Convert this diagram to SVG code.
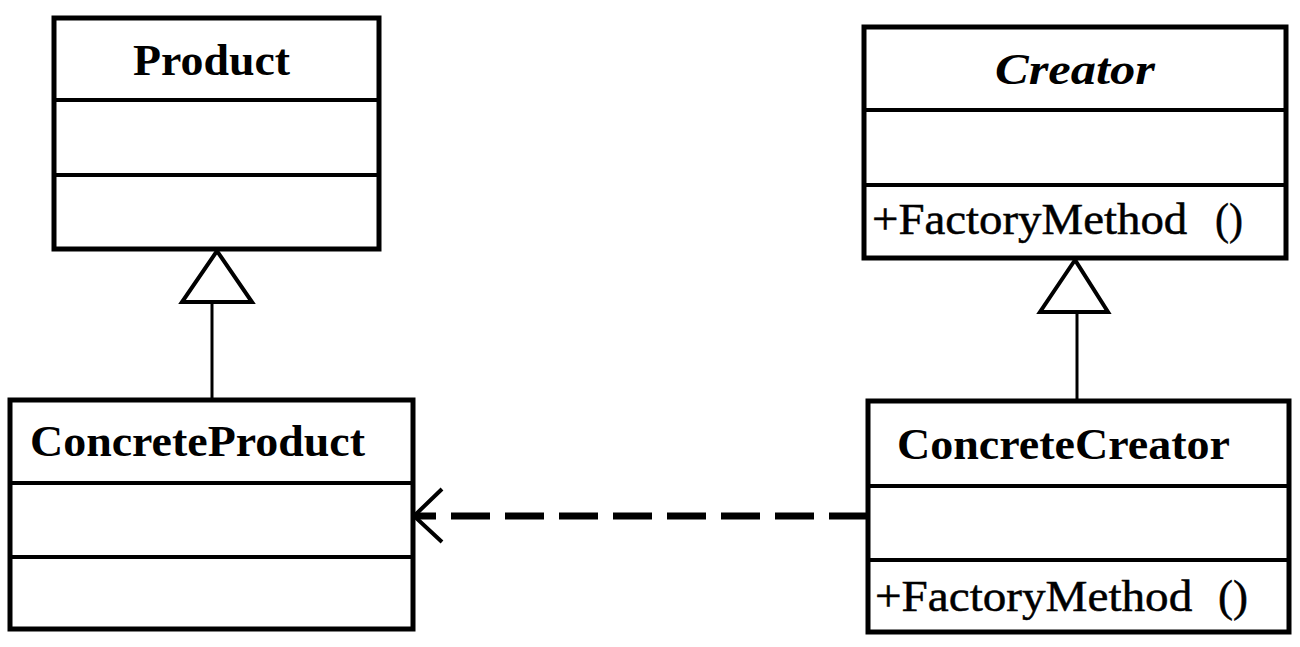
<svg xmlns="http://www.w3.org/2000/svg" width="1300" height="647" viewBox="0 0 1300 647">
<style>
.box{fill:#fff;stroke:#000;stroke-width:5}
.div{stroke:#000;stroke-width:4}
.name{font-family:"Liberation Serif","DejaVu Serif",serif;font-size:44px;font-weight:bold;fill:#000}
.it{font-style:italic}
.op{font-family:"Liberation Serif","DejaVu Serif",serif;font-size:44px;fill:#000;stroke:#000;stroke-width:0.5}
.gen{stroke:#000;stroke-width:3;fill:none}
.tri{fill:#fff;stroke:#000;stroke-width:4;stroke-linejoin:miter}
.dep{stroke:#000;stroke-width:7;stroke-dasharray:39 15;fill:none}
.head{stroke:#000;stroke-width:4;fill:none}
</style>
<rect width="1300" height="647" fill="#fff"/>
<g id="Product">
<rect class="box" x="54" y="18" width="325" height="231"/>
<line class="div" x1="54" y1="100" x2="379" y2="100"/>
<line class="div" x1="54" y1="175" x2="379" y2="175"/>
<text class="name" x="133" y="75" textLength="157" lengthAdjust="spacingAndGlyphs">Product</text>
</g>
<g id="Creator">
<rect class="box" x="864" y="27" width="422" height="231"/>
<line class="div" x1="864" y1="110" x2="1286" y2="110"/>
<line class="div" x1="864" y1="185" x2="1286" y2="185"/>
<text class="name it" x="995" y="84" textLength="160" lengthAdjust="spacingAndGlyphs">Creator</text>
<text class="op" y="234"><tspan x="872" textLength="327" lengthAdjust="spacingAndGlyphs">+FactoryMethod </tspan><tspan x="1215" textLength="28" lengthAdjust="spacingAndGlyphs">()</tspan></text>
</g>
<g id="ConcreteProduct">
<rect class="box" x="10" y="400" width="403" height="229"/>
<line class="div" x1="10" y1="483" x2="413" y2="483"/>
<line class="div" x1="10" y1="557" x2="413" y2="557"/>
<text class="name" x="30" y="456" textLength="335" lengthAdjust="spacingAndGlyphs">ConcreteProduct</text>
</g>
<g id="ConcreteCreator">
<rect class="box" x="868" y="401" width="421" height="231"/>
<line class="div" x1="868" y1="486" x2="1289" y2="486"/>
<line class="div" x1="868" y1="560" x2="1289" y2="560"/>
<text class="name" x="897" y="459" textLength="333" lengthAdjust="spacingAndGlyphs">ConcreteCreator</text>
<text class="op" y="611"><tspan x="875" textLength="329" lengthAdjust="spacingAndGlyphs">+FactoryMethod </tspan><tspan x="1218" textLength="30" lengthAdjust="spacingAndGlyphs">()</tspan></text>
</g>
<g id="connectors">
<line class="gen" x1="212" y1="302" x2="212" y2="398"/>
<polygon class="tri" points="217,251 182,302 252,302"/>
<line class="gen" x1="1077" y1="312" x2="1077" y2="399"/>
<polygon class="tri" points="1075,260 1040,312 1108,312"/>
<line class="dep" x1="868" y1="516" x2="415" y2="516"/>
<polyline class="head" points="442,489 414,516 442,542"/>
</g>
</svg>
